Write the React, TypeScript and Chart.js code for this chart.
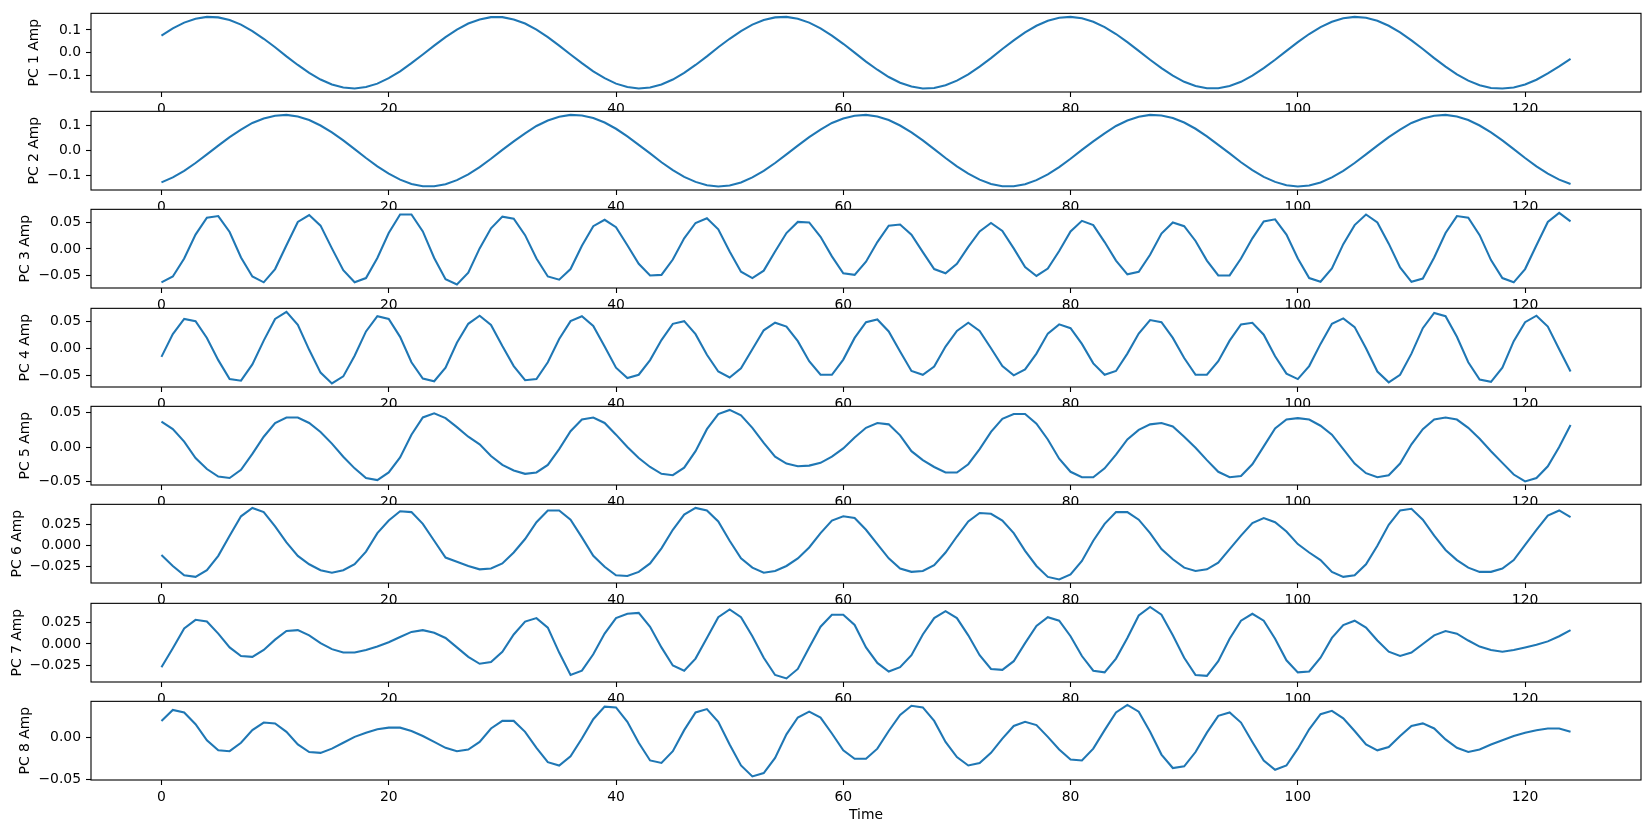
import React, { useEffect, useRef } from "react";
import { Chart, registerables } from "chart.js";
Chart.register(...registerables);

const FONT = "DejaVu Sans";

// time index (x values)
const TIME: number[] = Array.from({ length: 125 }, (_, i) => i);
const X_TICKS = [0, 20, 40, 60, 80, 100, 120];

const PC1 = [
  0.075, 0.107, 0.132, 0.149, 0.157, 0.155, 0.143, 0.123, 0.095, 0.061,
  0.024, -0.016, -0.054, -0.089, -0.118, -0.14, -0.153, -0.157, -0.151, -0.136,
  -0.112, -0.082, -0.046, -0.008, 0.031, 0.068, 0.101, 0.128, 0.146, 0.156,
  0.156, 0.146, 0.128, 0.101, 0.068, 0.031, -0.008, -0.046, -0.082, -0.112,
  -0.136, -0.151, -0.157, -0.153, -0.14, -0.118, -0.089, -0.054, -0.016, 0.024,
  0.061, 0.095, 0.123, 0.143, 0.155, 0.157, 0.149, 0.132, 0.107, 0.075,
  0.039, 0.0, -0.039, -0.075, -0.107, -0.132, -0.149, -0.157, -0.155, -0.143,
  -0.123, -0.095, -0.061, -0.024, 0.016, 0.054, 0.089, 0.118, 0.14, 0.153,
  0.157, 0.151, 0.136, 0.112, 0.082, 0.046, 0.008, -0.031, -0.068, -0.101,
  -0.128, -0.146, -0.156, -0.156, -0.146, -0.128, -0.101, -0.068, -0.031, 0.008,
  0.046, 0.082, 0.112, 0.136, 0.151, 0.157, 0.153, 0.14, 0.118, 0.089,
  0.054, 0.016, -0.024, -0.061, -0.095, -0.123, -0.143, -0.155, -0.157, -0.153,
  -0.14, -0.119, -0.091, -0.06, -0.027,
];

const PC2 = [
  -0.126, -0.106, -0.08, -0.049, -0.015, 0.02, 0.054, 0.084, 0.11, 0.128,
  0.139, 0.142, 0.136, 0.122, 0.1, 0.073, 0.041, 0.006, -0.029, -0.062,
  -0.091, -0.115, -0.132, -0.141, -0.141, -0.133, -0.117, -0.094, -0.065, -0.032,
  0.003, 0.037, 0.069, 0.098, 0.12, 0.135, 0.142, 0.14, 0.13, 0.112,
  0.087, 0.057, 0.023, -0.011, -0.046, -0.077, -0.104, -0.124, -0.137, -0.142,
  -0.138, -0.126, -0.106, -0.08, -0.049, -0.015, 0.02, 0.054, 0.084, 0.11,
  0.128, 0.139, 0.142, 0.136, 0.122, 0.1, 0.073, 0.041, 0.006, -0.029,
  -0.062, -0.091, -0.115, -0.132, -0.141, -0.141, -0.133, -0.117, -0.094, -0.065,
  -0.032, 0.003, 0.037, 0.069, 0.098, 0.12, 0.135, 0.142, 0.14, 0.13,
  0.112, 0.087, 0.057, 0.023, -0.011, -0.046, -0.077, -0.104, -0.124, -0.137,
  -0.142, -0.138, -0.126, -0.106, -0.08, -0.049, -0.015, 0.02, 0.054, 0.084,
  0.11, 0.128, 0.139, 0.142, 0.136, 0.122, 0.1, 0.073, 0.041, 0.006,
  -0.029, -0.062, -0.091, -0.115, -0.132,
];

const PC3 = [
  -0.063, -0.052, -0.018, 0.027, 0.059, 0.062, 0.032, -0.016, -0.052, -0.063,
  -0.038, 0.007, 0.051, 0.064, 0.044, 0.001, -0.04, -0.063, -0.055, -0.017,
  0.03, 0.065, 0.065, 0.033, -0.017, -0.057, -0.067, -0.045, 0.001, 0.039,
  0.061, 0.057, 0.026, -0.018, -0.052, -0.058, -0.038, 0.006, 0.043, 0.055,
  0.041, 0.007, -0.028, -0.05, -0.049, -0.02, 0.02, 0.049, 0.058, 0.037,
  -0.005, -0.043, -0.055, -0.041, -0.005, 0.03, 0.051, 0.05, 0.023, -0.014,
  -0.046, -0.049, -0.024, 0.013, 0.044, 0.046, 0.027, -0.006, -0.038, -0.046,
  -0.028, 0.004, 0.033, 0.049, 0.034, 0.001, -0.034, -0.051, -0.037, -0.004,
  0.033, 0.053, 0.045, 0.013, -0.022, -0.048, -0.043, -0.011, 0.029, 0.05,
  0.043, 0.015, -0.022, -0.05, -0.05, -0.018, 0.02, 0.052, 0.056, 0.027,
  -0.018, -0.055, -0.062, -0.037, 0.009, 0.045, 0.065, 0.05, 0.01, -0.035,
  -0.062, -0.056, -0.016, 0.03, 0.062, 0.059, 0.026, -0.021, -0.055, -0.063,
  -0.038, 0.007, 0.051, 0.068, 0.052,
];

const PC4 = [
  -0.015, 0.027, 0.055, 0.051, 0.02, -0.021, -0.056, -0.059, -0.029, 0.015,
  0.055, 0.068, 0.044, -0.002, -0.044, -0.064, -0.051, -0.013, 0.032, 0.06,
  0.055, 0.022, -0.025, -0.055, -0.06, -0.035, 0.011, 0.046, 0.061, 0.044,
  0.005, -0.032, -0.058, -0.056, -0.025, 0.018, 0.051, 0.06, 0.042, 0.004,
  -0.035, -0.054, -0.048, -0.021, 0.016, 0.046, 0.051, 0.027, -0.011, -0.042,
  -0.053, -0.036, -0.001, 0.034, 0.048, 0.041, 0.014, -0.023, -0.048, -0.048,
  -0.02, 0.02, 0.049, 0.054, 0.032, -0.005, -0.041, -0.048, -0.033, 0.004,
  0.033, 0.048, 0.033, 0.001, -0.032, -0.049, -0.038, -0.009, 0.028, 0.045,
  0.038, 0.009, -0.027, -0.048, -0.041, -0.009, 0.028, 0.053, 0.049, 0.02,
  -0.017, -0.048, -0.048, -0.023, 0.015, 0.045, 0.048, 0.026, -0.014, -0.046,
  -0.056, -0.032, 0.009, 0.046, 0.056, 0.04, 0.001, -0.042, -0.062, -0.048,
  -0.009, 0.038, 0.066, 0.06, 0.022, -0.025, -0.057, -0.061, -0.035, 0.014,
  0.049, 0.061, 0.041, -0.001, -0.042,
];

const PC5 = [
  0.037, 0.026, 0.008, -0.016, -0.032, -0.043, -0.045, -0.033, -0.01, 0.015,
  0.035, 0.043, 0.043, 0.035, 0.022, 0.005, -0.014, -0.031, -0.045, -0.048,
  -0.037, -0.015, 0.018, 0.043, 0.049, 0.042, 0.029, 0.015, 0.004, -0.013,
  -0.026, -0.034, -0.039, -0.037, -0.026, -0.003, 0.023, 0.04, 0.043, 0.035,
  0.018, 0.0, -0.016, -0.029, -0.039, -0.041, -0.03, -0.006, 0.026, 0.048,
  0.054, 0.046, 0.028, 0.006, -0.014, -0.024, -0.028, -0.027, -0.023, -0.014,
  -0.002, 0.014, 0.028, 0.035, 0.033, 0.017, -0.006, -0.019, -0.029, -0.037,
  -0.037, -0.025, -0.003, 0.022, 0.041, 0.048, 0.048, 0.034, 0.011, -0.017,
  -0.036, -0.044, -0.044, -0.031, -0.011, 0.011, 0.025, 0.033, 0.035, 0.03,
  0.015, -0.001, -0.019, -0.036, -0.044, -0.042, -0.025, 0.001, 0.027, 0.04,
  0.042, 0.04, 0.031, 0.018, -0.003, -0.024, -0.038, -0.044, -0.041, -0.024,
  0.004, 0.026, 0.04, 0.043, 0.04, 0.028, 0.012, -0.006, -0.023, -0.04,
  -0.05, -0.045, -0.028, 0.0, 0.032,
];

const PC6 = [
  -0.011, -0.024, -0.035, -0.037, -0.029, -0.012, 0.012, 0.035, 0.045, 0.04,
  0.023, 0.004, -0.012, -0.022, -0.029, -0.032, -0.029, -0.022, -0.007, 0.015,
  0.03, 0.041, 0.04, 0.026, 0.006, -0.014, -0.019, -0.024, -0.028, -0.027,
  -0.021, -0.008, 0.008, 0.028, 0.042, 0.042, 0.031, 0.01, -0.012, -0.025,
  -0.035, -0.036, -0.031, -0.021, -0.003, 0.019, 0.037, 0.045, 0.042, 0.029,
  0.006, -0.015, -0.026, -0.032, -0.03, -0.024, -0.015, -0.002, 0.015, 0.03,
  0.035, 0.033, 0.019, 0.002, -0.015, -0.027, -0.031, -0.03, -0.023, -0.008,
  0.011, 0.029, 0.039, 0.038, 0.03, 0.015, -0.006, -0.024, -0.037, -0.04,
  -0.034, -0.018, 0.006, 0.026, 0.04, 0.04, 0.031, 0.015, -0.004, -0.016,
  -0.026, -0.03, -0.028, -0.02, -0.004, 0.012, 0.027, 0.033, 0.028, 0.017,
  0.002, -0.008, -0.017, -0.031, -0.037, -0.035, -0.022, 0.0, 0.025, 0.042,
  0.044, 0.031, 0.012, -0.005, -0.017, -0.026, -0.031, -0.031, -0.027, -0.017,
  0.001, 0.019, 0.036, 0.042, 0.034,
];

const PC7 = [
  -0.027, -0.005, 0.018, 0.028, 0.026, 0.012, -0.004, -0.014, -0.015, -0.007,
  0.005, 0.015, 0.016, 0.01, 0.001, -0.006, -0.01, -0.01, -0.007, -0.003,
  0.002, 0.008, 0.014, 0.016, 0.013, 0.007, -0.004, -0.015, -0.023, -0.021,
  -0.009, 0.011, 0.026, 0.03, 0.019, -0.01, -0.036, -0.031, -0.012, 0.012,
  0.03, 0.035, 0.036, 0.02, -0.004, -0.025, -0.031, -0.017, 0.007, 0.031,
  0.04, 0.031, 0.009, -0.016, -0.036, -0.04, -0.029, -0.004, 0.02, 0.034,
  0.034, 0.022, -0.004, -0.022, -0.032, -0.027, -0.013, 0.011, 0.03, 0.038,
  0.03, 0.01, -0.013, -0.029, -0.03, -0.02, 0.001, 0.021, 0.031, 0.027,
  0.009, -0.014, -0.031, -0.033, -0.017, 0.007, 0.033, 0.043, 0.034, 0.01,
  -0.016, -0.036, -0.037, -0.02, 0.006, 0.027, 0.035, 0.027, 0.006, -0.019,
  -0.033, -0.032, -0.016, 0.007, 0.022, 0.027, 0.019, 0.004, -0.009, -0.014,
  -0.01, 0.0, 0.01, 0.015, 0.012, 0.004, -0.003, -0.007, -0.009, -0.007,
  -0.004, -0.001, 0.003, 0.009, 0.016,
];

const PC8 = [
  0.02, 0.033, 0.03, 0.016, -0.003, -0.015, -0.016, -0.006, 0.009, 0.018,
  0.017, 0.007, -0.008, -0.017, -0.018, -0.013, -0.006, 0.001, 0.006, 0.01,
  0.012, 0.012, 0.008, 0.002, -0.005, -0.012, -0.016, -0.014, -0.005, 0.011,
  0.02, 0.02, 0.007, -0.012, -0.029, -0.033, -0.022, -0.001, 0.022, 0.037,
  0.036, 0.019, -0.006, -0.027, -0.03, -0.016, 0.009, 0.03, 0.034, 0.019,
  -0.008, -0.033, -0.046, -0.042, -0.024, 0.004, 0.024, 0.031, 0.024, 0.005,
  -0.015, -0.025, -0.025, -0.013, 0.008, 0.027, 0.038, 0.036, 0.02, -0.005,
  -0.023, -0.033, -0.03, -0.018, -0.001, 0.014, 0.019, 0.015, 0.001, -0.014,
  -0.026, -0.027, -0.013, 0.009, 0.03, 0.039, 0.031, 0.007, -0.02, -0.036,
  -0.034, -0.017, 0.006, 0.026, 0.03, 0.018, -0.005, -0.027, -0.038, -0.033,
  -0.013, 0.01, 0.028, 0.032, 0.023, 0.008, -0.008, -0.015, -0.011, 0.002,
  0.014, 0.017, 0.011, -0.002, -0.012, -0.017, -0.014, -0.008, -0.003, 0.002,
  0.006, 0.009, 0.011, 0.011, 0.007,
];

const SERIES = [PC1, PC2, PC3, PC4, PC5, PC6, PC7, PC8];
const LABELS = ["PC 1 Amp", "PC 2 Amp", "PC 3 Amp", "PC 4 Amp", "PC 5 Amp", "PC 6 Amp", "PC 7 Amp", "PC 8 Amp"];
const Y_TICKS = [
  [-0.1, 0, 0.1],
  [-0.1, 0, 0.1],
  [-0.05, 0, 0.05],
  [-0.05, 0, 0.05],
  [-0.05, 0, 0.05],
  [-0.025, 0, 0.025],
  [-0.025, 0, 0.025],
  [-0.05, 0, 0.05],
];
const Y_DECIMALS = [1, 1, 2, 2, 2, 3, 3, 2];
const X_LABEL = "Time";

// layout (page pixels)
const PANEL_TOPS = [10, 108, 206, 305, 403, 501, 600, 698];
const PANEL_H = 82;
const PAD_TOP = 10;
const AXIS_LEFT = 91;
const AXIS_RIGHT = 1641;
const X_AXIS_H = 52;
const FS = 13.9;

function fmt(v: number, d: number) {
  const s = Math.abs(v).toFixed(d);
  return (v < -1e-12 ? "\u2212" : "") + s;
}

function Panel({ idx }: { idx: number }) {
  const ref = useRef<HTMLCanvasElement>(null);
  useEffect(() => {
    const values = SERIES[idx];
    const dmin = Math.min(...values);
    const dmax = Math.max(...values);
    const m = (dmax - dmin) * 0.05;
    const ymin = dmin - m;
    const ymax = dmax + m;
    const dec = Y_DECIMALS[idx];
    const yt = Y_TICKS[idx].filter((v) => v >= ymin - 0.001 && v <= ymax + 0.001);
    const isLast = idx === SERIES.length - 1;
    const font = { family: FONT, size: FS };

    const framePlugin = {
      id: "frame" + idx,
      beforeDraw(chart: any) {
        const { ctx, chartArea: a } = chart;
        ctx.save();
        ctx.fillStyle = "#ffffff";
        ctx.fillRect(a.left, a.top, a.right - a.left, a.bottom - a.top);
        ctx.restore();
      },
      afterDraw(chart: any) {
        const { ctx, chartArea: a } = chart;
        ctx.save();
        ctx.strokeStyle = "#000000";
        ctx.lineWidth = 1.1;
        ctx.strokeRect(a.left, a.top, a.right - a.left, a.bottom - a.top);
        ctx.font = `${FS}px "${FONT}"`;
        ctx.fillStyle = "#000000";
        let maxW = 0;
        yt.forEach((v) => {
          maxW = Math.max(maxW, ctx.measureText(fmt(v, dec)).width);
        });
        const xr = a.left - 10 - maxW - 5.6;
        ctx.translate(xr, (a.top + a.bottom) / 2);
        ctx.rotate(-Math.PI / 2);
        ctx.textAlign = "center";
        ctx.textBaseline = "bottom";
        ctx.fillText(LABELS[idx], 0, 0);
        ctx.restore();
        if (isLast) {
          ctx.save();
          ctx.font = `${FS}px "${FONT}"`;
          ctx.fillStyle = "#000000";
          ctx.textAlign = "center";
          ctx.textBaseline = "middle";
          ctx.fillText(X_LABEL, (a.left + a.right) / 2, a.bottom + 35);
          ctx.restore();
        }
      },
    };

    const chart = new Chart(ref.current as HTMLCanvasElement, {
      type: "line",
      data: {
        datasets: [
          {
            data: values.map((v, i) => ({ x: TIME[i], y: v })),
            borderColor: "#1f77b4",
            backgroundColor: "#1f77b4",
            borderWidth: 2.08,
            pointRadius: 0,
            tension: 0,
            fill: false,
          },
        ],
      },
      options: {
        animation: false,
        responsive: false,
        maintainAspectRatio: false,
        devicePixelRatio: 1,
        layout: { padding: { top: PAD_TOP, right: 1650 - AXIS_RIGHT, left: 0, bottom: 0 } },
        plugins: {
          legend: { display: false },
          tooltip: { enabled: false },
          title: { display: false },
        },
        scales: {
          x: {
            type: "linear",
            min: -6.2,
            max: 130.2,
            afterBuildTicks: (s: any) => {
              s.ticks = X_TICKS.map((v) => ({ value: v }));
            },
            afterFit: (s: any) => {
              s.height = X_AXIS_H;
            },
            grid: { drawOnChartArea: false, drawTicks: true, tickLength: 5, tickColor: "#000", tickWidth: 1.1 },
            border: { display: false },
            ticks: {
              color: "#000",
              font,
              padding: 4,
              maxRotation: 0,
              autoSkip: false,
              callback: (v: any) => String(v),
            },
          },
          y: {
            type: "linear",
            min: ymin,
            max: ymax,
            afterBuildTicks: (s: any) => {
              s.ticks = yt.map((v) => ({ value: v }));
            },
            afterFit: (s: any) => {
              s.width = AXIS_LEFT;
            },
            grid: { drawOnChartArea: false, drawTicks: true, tickLength: 5, tickColor: "#000", tickWidth: 1.1 },
            border: { display: false },
            ticks: {
              color: "#000",
              font,
              padding: 5,
              autoSkip: false,
              callback: (v: any) => fmt(Number(v), dec),
            },
          },
        },
      } as any,
      plugins: [framePlugin as any],
    });
    return () => chart.destroy();
  }, [idx]);

  const h = PAD_TOP + PANEL_H + X_AXIS_H;
  return (
    <canvas
      ref={ref}
      width={1650}
      height={h}
      style={{ position: "absolute", left: 0, top: PANEL_TOPS[idx] - PAD_TOP, width: 1650, height: h, display: "block" }}
    />
  );
}

export default function App() {
  return (
    <div style={{ position: "absolute", left: 0, top: 0, width: 1650, height: 833, background: "#fff", overflow: "hidden" }}>
      {SERIES.map((_, i) => (
        <Panel key={i} idx={i} />
      ))}
    </div>
  );
}
